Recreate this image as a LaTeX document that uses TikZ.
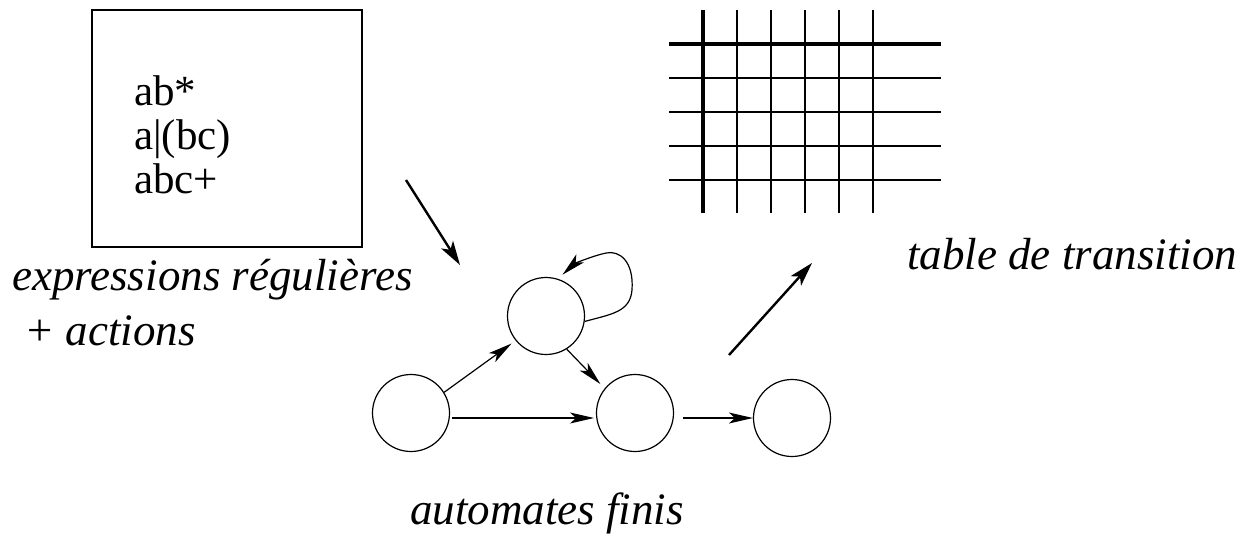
\documentclass[tikz,border=0pt]{standalone}
\usepackage{fontspec}
\setmainfont{Liberation Serif}
\usetikzlibrary{arrows.meta,calc}
\tikzset{
  state/.style={circle,draw,line width=1.2pt,minimum size=77pt,inner sep=0pt},
  arr/.style={line width=1.2pt,-{Stealth[length=24pt,width=11pt,inset=6pt]}},
  bigarr/.style={line width=2.4pt,-{Stealth[length=24pt,width=14pt,inset=6pt]}},
  thinline/.style={line width=1.3pt},
  thickline/.style={line width=4pt},
  lbl/.style={font=\fontsize{45}{50}\selectfont\itshape,inner sep=0pt,anchor=base west},
  regex/.style={font=\fontsize{43}{45}\selectfont,inner sep=0pt,anchor=base west}
}
\begin{document}
\begin{tikzpicture}[x=1pt,y=-1pt]
\useasboundingbox (0,0) rectangle (1245,539);

% regular expressions box
\draw[line width=1.2pt] (92,10) rectangle (362,247);
\node[regex] (r1) at (134,105) {ab*};
\node[regex] (r2) at (134,149) {a|(bc)};
\node[regex] (r3) at (134,193) {abc+};

\node[lbl] (lexp) at (12,290) {expressions régulières};
\node[lbl] (lact) at (24,345) {+ actions};

% transition table
\foreach \x in {737,771,805,839,873} \draw[thinline] (\x,10) -- (\x,213);
\foreach \y in {78,112,146,180} \draw[thinline] (669,\y) -- (941,\y);
\draw[thickline] (669,44) -- (941,44);
\draw[thickline] (703,10) -- (703,213);
\node[lbl] (ltab) at (907,269) {table de transition};

% finite automaton
\node[state] (c1) at (411,413) {};
\node[state] (c2) at (546,316) {};
\node[state] (c3) at (635,413) {};
\node[state] (c4) at (792,418) {};

\draw[arr,shorten >=5pt] (c1.32) -- (c2.219);
\draw[arr,shorten >=1pt] ($(c1.center)+(41,5)$) -- ($(c3.center)+(-40,5)$);
\draw[arr,shorten >=6pt] (c2.-58) -- (c3.141);
\draw[arr] ($(c3.center)+(48,5)$) -- (c4.west);
\draw[arr,shorten >=6pt] (c2.-8) .. controls (612,314) and (630,312) .. (632,290)
  .. controls (634,262) and (620,250) .. (606,253)
  .. controls (592,256) and (574,264) .. (c2.72);

\node[lbl] (laut) at (410,524) {automates finis};

% flow arrows
\coordinate (a1s) at (406,180);
\coordinate (a1e) at (460,265);
\coordinate (a2s) at (729,355);
\coordinate (a2e) at (812,263);
\draw[bigarr] (a1s) -- (a1e);
\draw[bigarr] (a2s) -- (a2e);
\end{tikzpicture}
\end{document}
